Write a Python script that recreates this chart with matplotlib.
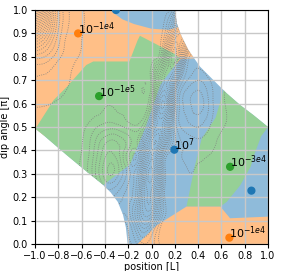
import numpy as np
import matplotlib
matplotlib.use("Agg")
import matplotlib.pyplot as plt
import matplotlib.tri as mtri
from matplotlib.colors import to_rgb

# region outlines (data coords)
domain_x = [-1.0, 0.202, 0.216, 0.259, 0.316, 0.416, 0.53, 0.645, 0.76, 0.874, 1.0,
            1.0, -0.205, -0.22, -0.245, -0.29, -0.35, -0.414, -0.556, -0.728, -0.929, -1.0]
domain_y = [1.0, 1.0, 0.943, 0.886, 0.829, 0.758, 0.701, 0.644, 0.594, 0.551, 0.50,
            0.0, 0.0, 0.07, 0.125, 0.18, 0.22, 0.252, 0.309, 0.38, 0.466, 0.494]

orange_top_x = [-1.0, 0.6, 0.6, 0.25, -0.1, -1.0]
orange_top_y = [1.0, 1.0, 0.80, 0.79, 0.60, 0.45]

blue_top_x = [-0.36, -0.25, -0.15, 0.0, 0.15, 0.25, 0.3]
blue_top_y = [1.0, 0.96, 0.94, 0.92, 0.915, 0.93, 1.0]

green_left_x = [-1.0, -0.84, -0.73, -0.56, -0.5, -0.19, -0.12, -0.1, 0.19, 0.245,
                0.075, -0.05, -0.185, -0.414, -0.6, -1.0]
green_left_y = [0.49, 0.615, 0.67, 0.765, 0.78, 0.78, 0.87, 0.89, 0.815, 0.794,
                0.68, 0.50, 0.34, 0.252, 0.2, 0.3]

green_right_x = [0.62, 0.55, 0.43, 0.37, 0.30, 0.59, 0.645, 0.76, 0.85, 0.88, 0.94, 1.0, 1.0]
green_right_y = [0.66, 0.54, 0.45, 0.33, 0.16, 0.16, 0.18, 0.25, 0.33, 0.38, 0.46, 0.50, 0.8]

orange_bot_x = [-0.12, 0.045, 0.30, 0.59, 0.674, 1.0, 1.0]
orange_bot_y = [0.0, 0.08, 0.16, 0.16, 0.11, 0.117, 0.0]

# background field, rows y = 0.0 .. 1.0, columns x = -1.0 .. 1.0
grid_x = np.linspace(-1.0, 1.0, 21)
grid_y = np.linspace(0.0, 1.0, 11)
field = np.array([
    [0, 0, 0, 0, 0, -0.2, -0.4, -0.4, -0.4, -1.5, -1.5, -0.2, 0, 0, 0, 0, 0, 0, 0, 0, 0],
    [0, 0, 0, 0, -0.2, -0.5, -0.8, -0.8, -1.1, -4, -4, -0.6, 0, 0, 0, 0, 0, 0, 0, 0, 0],
    [0, 0, 0, -0.15, -0.45, -1.1, -2.2, -2.2, -1.6, -4.1, -6.4, -1.2, 0, 0, 0, 0, 0, 0, 0, 0, 0],
    [0, 0, 0, -0.2, -0.7, -2.0, -3.9, -3.9, -2.1, -3.4, -7.5, -1.7, 0, 0.3, 0.3, 0.2, 0, 0, 0, 0, 0],
    [0, 0, 0, -0.2, -0.6, -1.7, -3.3, -3.3, -1.7, -2.1, -7, -3.2, -0.3, 0.7, 0.8, 0.6, 0.2, 0, 0, 0, 0],
    [0.2, 0.1, 0, 0, -0.4, -1.0, -1.5, -1.5, -1.0, -1.0, -4.4, -5.8, -0.2, 2.0, 2.5, 1.5, 0.6, 0.2, 0, 0, 0],
    [0.6, 0.55, 0.4, 0.2, 0, -0.15, -0.5, -0.5, -0.4, 0, -2, -8, -1.0, 3, 4, 2.2, 0.7, 0.2, 0, 0, 0],
    [1.4, 1.2, 0.8, 0.5, 0.2, 0, 0, 0, 0, 0, -1.0, -5.8, -3.6, 1.4, 2.5, 1.5, 0.6, 0.2, 0, 0, 0],
    [4, 3.3, 1.8, 0.8, 0.4, 0.15, 0, 0, 0, 0, -0.2, -2.6, -7.5, -1.0, 0.8, 0.6, 0.3, 0, 0, 0, 0],
    [12, 8, 3.3, 1.2, 0.55, 0.2, 0, 0, 0, 0, 0, -0.8, -5, -5, -0.8, 0, 0, 0, 0, 0, 0],
    [22, 12, 4, 1.4, 0.6, 0.2, 0, 0, 0, 0, 0, 0, -2, -8, -2, 0, 0, 0, 0, 0, 0],
])

# minima
pt_x = [-0.63, -0.45, 0.196, 0.674, 0.857, 0.668, -0.305]
pt_y = [0.90, 0.632, 0.403, 0.33, 0.228, 0.027, 1.0]
pt_c = ["tab:orange", "tab:green", "tab:blue", "tab:green", "tab:blue", "tab:orange", "tab:blue"]
pt_lab = [r"$10^{-1e4}$", r"$10^{-1e5}$", r"$10^{7}$", r"$10^{-3e4}$", "", r"$10^{-1e4}$", ""]


def light(c):
    r, g, b = to_rgb(c)
    return (0.5 + 0.5 * r, 0.5 + 0.5 * g, 0.5 + 0.5 * b)


plt.rcParams["font.size"] = 7
fig = plt.figure(figsize=(2.81, 2.71), dpi=100)
ax = fig.add_axes([0.1246, 0.0996, 0.8294, 0.8635])

dom = plt.Polygon(np.column_stack([domain_x, domain_y]), closed=True,
                  facecolor=light("tab:blue"), edgecolor="none", zorder=0.5)
ax.add_patch(dom)

for xs, ys, c in [(orange_top_x, orange_top_y, "tab:orange"),
                  (blue_top_x, blue_top_y, "tab:blue"),
                  (green_left_x, green_left_y, "tab:green"),
                  (green_right_x, green_right_y, "tab:green"),
                  (orange_bot_x, orange_bot_y, "tab:orange")]:
    p, = ax.fill(xs, ys, color=light(c), edgecolor="none", zorder=0.6)
    p.set_clip_path(dom)

gx, gy = np.meshgrid(grid_x, grid_y)
tri = mtri.Triangulation(gx.ravel(), gy.ravel())
tri_f, z_f = mtri.UniformTriRefiner(tri).refine_field(field.ravel(), subdiv=3)
levels = np.concatenate([np.arange(-7.8, 0, 0.6), np.arange(0.5, 22, 1.0)])
cs = ax.tricontour(tri_f, z_f, levels=levels, colors="gray",
                   linewidths=0.6, linestyles=":", zorder=2)
cs.set_clip_path(dom)

ax.scatter(pt_x, pt_y, c=pt_c, s=24, zorder=3)
for x, y, s in zip(pt_x, pt_y, pt_lab):
    if s:
        ax.text(x, y, s, fontsize=8, zorder=4)

ax.set_xlim(-1, 1)
ax.set_ylim(0, 1)
ax.set_xticks(np.arange(-1.0, 1.01, 0.2))
ax.set_yticks(np.arange(0.0, 1.01, 0.1))
ax.grid(True, color="#c8c8c8", linewidth=1.0)
ax.set_xlabel("position [L]", labelpad=1)
ax.set_ylabel("dip angle [π]", labelpad=2)
ax.tick_params(pad=2, length=3)

fig.savefig("out.png", dpi=100)
